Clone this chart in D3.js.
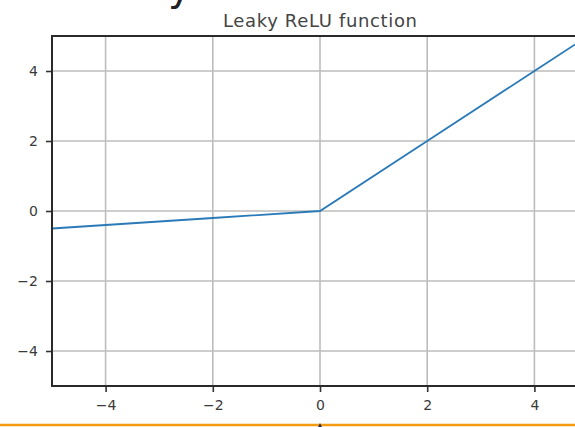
<!DOCTYPE html>
<html>
<head>
<meta charset="utf-8">
<script src="https://cdnjs.cloudflare.com/ajax/libs/d3/7.8.5/d3.min.js"></script>
<style>
  html, body { margin: 0; padding: 0; background: #fff; overflow: hidden; }
  svg { display: block; font-family: "DejaVu Sans", sans-serif; }
</style>
</head>
<body>
<svg id="chart" width="575" height="427"></svg>
<script>
// points
var xValues = [-5, -4, -2, 0, 2, 4, 5];
var yValues = [-0.5, -0.4, -0.2, 0, 2, 4, 5];
var xTicks = [-4, -2, 0, 2, 4];
var yTicks = [-4, -2, 0, 2, 4];
var title = "Leaky ReLU function";

var svg = d3.select("#chart");
var margin = {left: 52, top: 36};
var plotW = 536, plotH = 350;

var xScale = d3.scaleLinear().domain([-5, 5]).range([margin.left, margin.left + plotW]);
var yScale = d3.scaleLinear().domain([-5, 5]).range([margin.top + plotH, margin.top]);

var fmt = function(d) { return d < 0 ? "\u2212" + Math.abs(d) : d; };

// cut-off heading letter above the chart
svg.append("text")
  .attr("x", 168).attr("y", 0)
  .attr("font-size", 40)
  .attr("fill", "#222")
  .text("y");

// grid
var g = svg.append("g");
g.selectAll(".vgrid").data(xTicks).enter().append("line")
  .attr("x1", function(d) { return xScale(d); })
  .attr("x2", function(d) { return xScale(d); })
  .attr("y1", yScale(-5)).attr("y2", yScale(5))
  .attr("stroke", "#bdbdbd").attr("stroke-width", 1.6);
g.selectAll(".hgrid").data(yTicks).enter().append("line")
  .attr("y1", function(d) { return yScale(d); })
  .attr("y2", function(d) { return yScale(d); })
  .attr("x1", xScale(-5)).attr("x2", xScale(5))
  .attr("stroke", "#bdbdbd").attr("stroke-width", 1.6);

// the line
var line = d3.line()
  .x(function(d, i) { return xScale(xValues[i]); })
  .y(function(d, i) { return yScale(d); });
g.append("path")
  .datum(yValues)
  .attr("d", line)
  .attr("fill", "none")
  .attr("stroke", "#2a7ab8")
  .attr("stroke-width", 1.8);

// axes
var xAxis = svg.append("g")
  .attr("transform", "translate(0," + yScale(-5) + ")")
  .call(d3.axisBottom(xScale).tickValues(xTicks).tickFormat(fmt).tickSize(6).tickPadding(8));
var yAxis = svg.append("g")
  .attr("transform", "translate(" + xScale(-5) + ",0)")
  .call(d3.axisLeft(yScale).tickValues(yTicks).tickFormat(fmt).tickSize(6).tickPadding(8));
[xAxis, yAxis].forEach(function(a) {
  a.select(".domain").remove();
  a.selectAll(".tick line").attr("stroke", "#333").attr("stroke-width", 1.6);
  a.selectAll(".tick text").attr("fill", "#3a3a3a").attr("font-size", 14)
    .attr("font-family", "DejaVu Sans, sans-serif");
});

// frame
svg.append("rect")
  .attr("x", xScale(-5)).attr("y", yScale(5))
  .attr("width", plotW).attr("height", plotH)
  .attr("fill", "none").attr("stroke", "#2a2a2a").attr("stroke-width", 2);

// title
svg.append("text")
  .attr("x", (xScale(-5) + xScale(5)) / 2)
  .attr("y", 27)
  .attr("text-anchor", "middle")
  .attr("font-size", 18)
  .attr("textLength", 194)
  .attr("fill", "#444")
  .text(title);

// orange rule at the bottom, with the small marker under the 0 tick
svg.append("line")
  .attr("x1", 0).attr("x2", 575)
  .attr("y1", 425).attr("y2", 425)
  .attr("stroke", "#f39c12").attr("stroke-width", 2.5);
svg.append("path")
  .attr("d", "M" + (xScale(0) - 2) + ",427 L" + xScale(0) + ",423 L" + (xScale(0) + 2) + ",427 Z")
  .attr("fill", "#333");
</script>
</body>
</html>
